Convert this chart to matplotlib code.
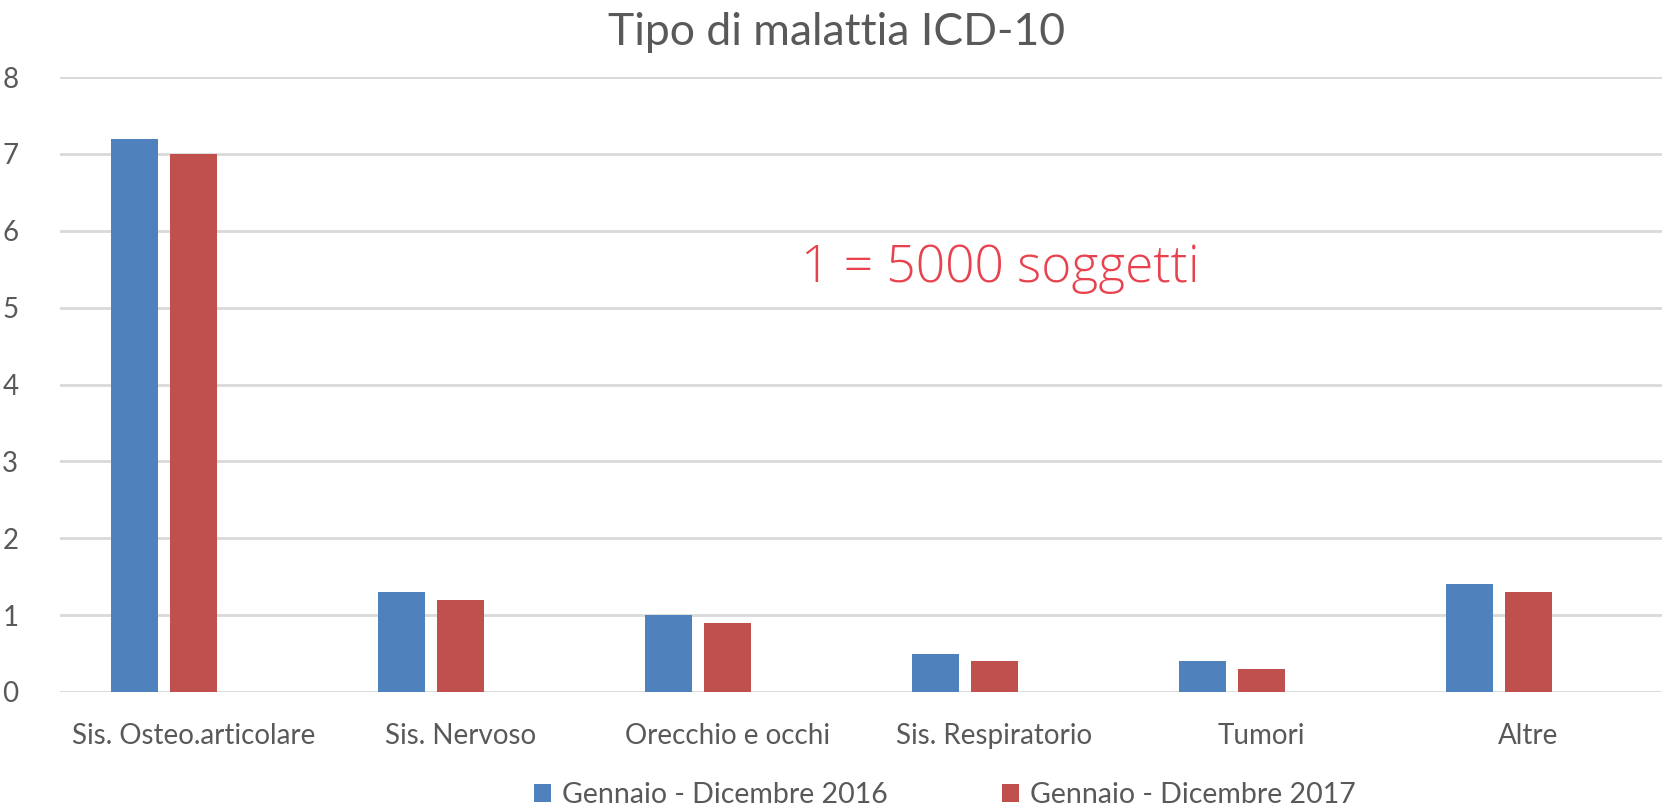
import numpy as np
import matplotlib.pyplot as plt

categories = ["Sis. Osteo.articolare", "Sis. Nervoso", "Orecchio e occhi",
              "Sis. Respiratorio", "Tumori", "Altre"]
serie_2016 = [7.2, 1.3, 1.0, 0.5, 0.4, 1.4]
serie_2017 = [7.0, 1.2, 0.9, 0.4, 0.3, 1.3]
labels = ["Gennaio - Dicembre 2016", "Gennaio - Dicembre 2017"]

plt.rcParams['font.family'] = ['Lato', 'DejaVu Sans']
grey = "#595959"

fig = plt.figure(figsize=(16.62, 8.10), dpi=100)
ax = fig.add_axes([60 / 1662, 118 / 810, 1 - 60 / 1662, 615 / 810])

x = np.arange(len(categories))
slot = 0.221
width = 0.176
ax.bar(x - slot, serie_2016, width, color="#4F81BD", label=labels[0], zorder=3)
ax.bar(x, serie_2017, width, color="#C0504D", label=labels[1], zorder=3)

ax.set_xlim(-0.5, len(categories) - 0.5)
ax.set_ylim(0, 8)
ax.set_yticks(range(0, 9))
ax.yaxis.grid(True, color="#D9D9D9", linewidth=2)
ax.set_axisbelow(True)
for s in ax.spines.values():
    s.set_visible(False)
ax.tick_params(length=0, labelsize=20, colors=grey)
ax.tick_params(axis="x", pad=22)
ax.tick_params(axis="y", pad=30)
ax.set_xticks(x)
ax.set_xticklabels(categories)

fig.text(0.5035, 0.96, "Tipo di malattia ICD-10", ha="center", va="center",
         fontsize=32, color=grey)
fig.text(1000 / 1662, 1 - 268 / 810, "1 = 5000 soggetti", ha="center", va="center",
         fontsize=37, color="#E8424F", family="Open Sans", fontweight="light")

ax.legend(loc="center", bbox_to_anchor=(0.5524, -0.168), ncol=2, frameon=False,
          fontsize=20.5, labelcolor=grey, handlelength=0.6, handleheight=0.6,
          handletextpad=0.4, columnspacing=4.0)

fig.savefig("out.png", dpi=100)
